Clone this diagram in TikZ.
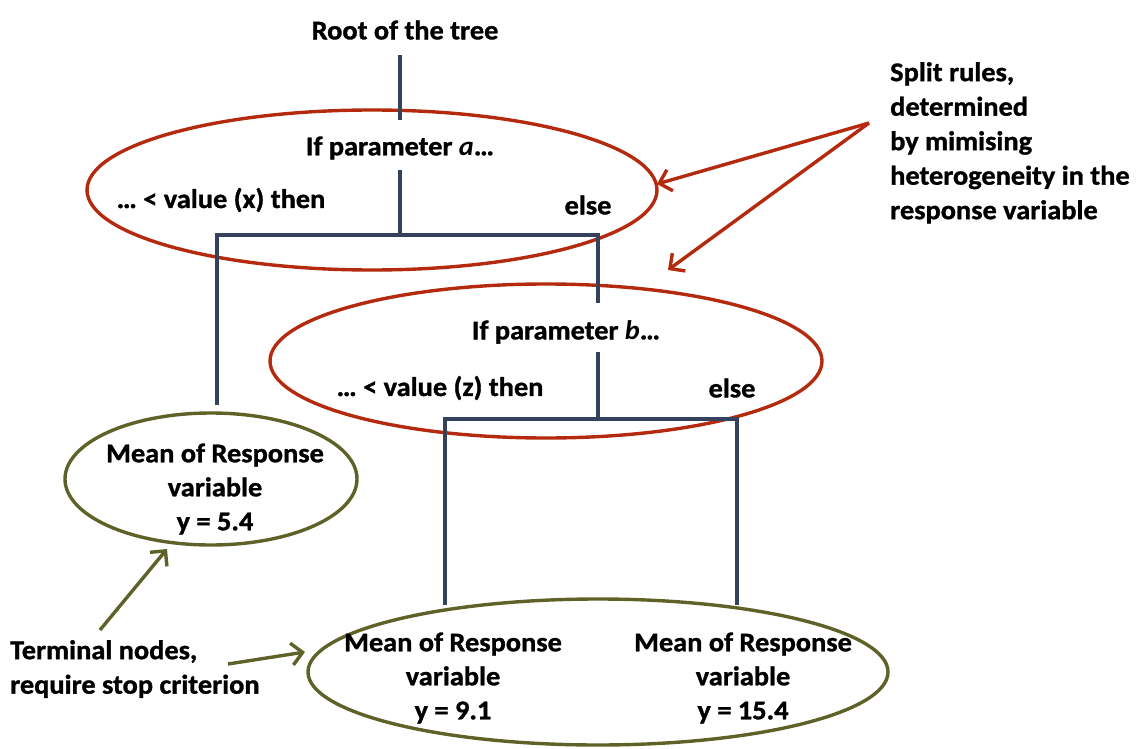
\documentclass[tikz,border=0pt]{standalone}
\usepackage{fontspec}
\setmainfont{Carlito}[FakeStretch=1.05, BoldFeatures={FakeBold=1.2}]
\usetikzlibrary{arrows.meta,shapes.geometric}
\definecolor{splitred}{RGB}{180,42,14}
\definecolor{termolive}{RGB}{95,98,40}
\definecolor{treeblue}{RGB}{52,66,92}
\begin{document}
\begin{tikzpicture}[x=1pt,y=-1pt,
  lbl/.style={font=\bfseries\fontsize{27}{34}\selectfont, inner sep=0pt, align=center},
  lbll/.style={font=\bfseries\fontsize{27}{34.5}\selectfont, inner sep=0pt, align=left},
  splitell/.style={ellipse, draw=splitred, line width=3.4pt, inner sep=0pt},
  termell/.style={ellipse, draw=termolive, line width=3.4pt, inner sep=0pt},
  treeline/.style={draw=treeblue, line width=3.4pt},
  redarrow/.style={draw=splitred, line width=3.4pt, -{Straight Barb[length=11pt,width=22pt,line width=3.4pt]}},
  olivearrow/.style={draw=termolive, line width=3.4pt, -{Straight Barb[length=11pt,width=22pt,line width=3.4pt]}}]
\useasboundingbox (0,0) rectangle (1140,749);
% ellipses
\node[splitell, minimum width=570pt, minimum height=160pt] (e1) at (372,190) {};
\node[splitell, minimum width=552pt, minimum height=154pt] (e2) at (546,361) {};
\node[termell, minimum width=292pt, minimum height=132pt] (t1) at (211,479) {};
\node[termell, minimum width=580pt, minimum height=146pt] (t2) at (598,672) {};
% texts
\node[lbl] (root) at (405,30) {Root of the tree};
\node[lbl] (qa) at (400,148) {If parameter \textit{a}…};
\node[lbl] (xa) at (221,200) {… < value (x) then};
\node[lbl] (ea) at (588,205) {else};
\node[lbl] (qb) at (566,332) {If parameter \textit{b}…};
\node[lbl] (xb) at (440,388) {… < value (z) then};
\node[lbl] (eb) at (732,388) {else};
\node[lbl] (m1) at (215,489) {Mean of Response\\variable\\y = 5.4};
\node[lbl] (m2) at (453,678) {Mean of Response\\variable\\y = 9.1};
\node[lbl] (m3) at (743,678) {Mean of Response\\variable\\y = 15.4};
\node[lbll, anchor=north west] (split) at (890,62) {Split rules,\\determined\\by mimising\\heterogeneity in the\\response variable};
\node[lbll, anchor=north west] (term) at (10,640) {Terminal nodes,\\require stop criterion};
% tree coordinates
\coordinate (r1) at (400,55);
\coordinate (r2) at (400,120);
\coordinate (a1) at (400,170);
\coordinate (ja) at (400,235);
\coordinate (jl) at (217,235);
\coordinate (jr) at (598,235);
\coordinate (ll) at (217,405);
\coordinate (rr) at (598,303);
\coordinate (b1) at (598,352);
\coordinate (jb) at (598,419);
\coordinate (jbl) at (445,419);
\coordinate (jbr) at (737,419);
\coordinate (bl) at (445,605);
\coordinate (br) at (737,605);
\draw[treeline] (r1) -- (r2);
\draw[treeline] (a1) -- (ja);
\draw[treeline] (ll) -- (jl) -- (jr) -- (rr);
\draw[treeline] (b1) -- (jb);
\draw[treeline] (bl) -- (jbl) -- (jbr) -- (br);
% annotation arrows
\coordinate (sp) at (869,123);
\coordinate (s1) at (657,184);
\coordinate (s2) at (668,270);
\draw[redarrow] (sp) -- (s1);
\draw[redarrow] (sp) -- (s2);
\coordinate (tp1) at (100,630);
\coordinate (tt1) at (167,549);
\coordinate (tp2) at (228,664);
\coordinate (tt2) at (305,652);
\draw[olivearrow] (tp1) -- (tt1);
\draw[olivearrow] (tp2) -- (tt2);
\end{tikzpicture}
\end{document}
